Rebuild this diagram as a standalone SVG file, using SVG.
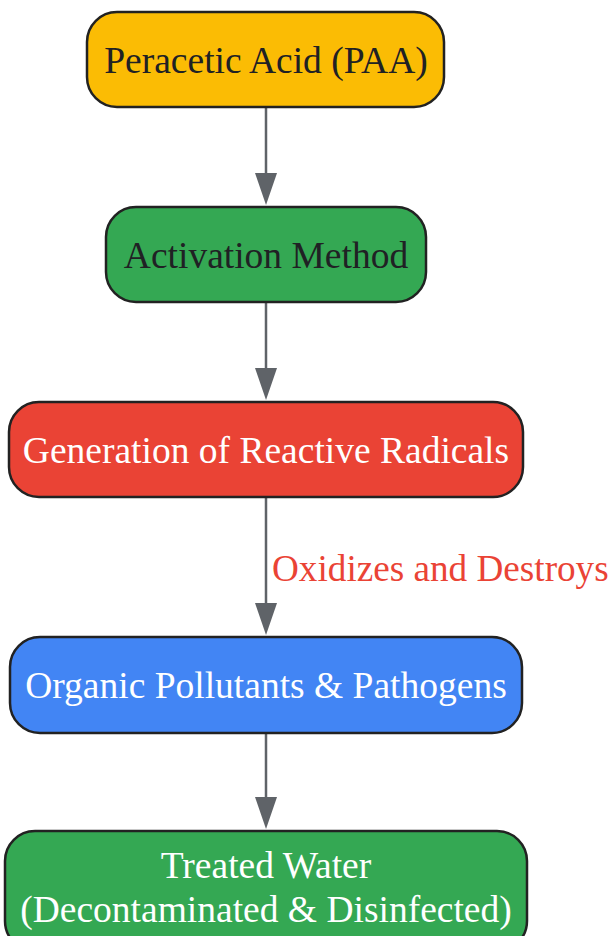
<svg xmlns="http://www.w3.org/2000/svg" width="612" height="936" viewBox="0 0 612 936">
<style>
.n{stroke:#222;stroke-width:2.5}
.t{font-family:"Liberation Serif","Times New Roman",serif;font-size:37.5px;text-anchor:middle}
.d{fill:#202124}
.w{fill:#ffffff}
.e{stroke:#5f6368;stroke-width:2.5;fill:none}
.a{fill:#5f6368}
.lbl{font-family:"Liberation Serif","Times New Roman",serif;font-size:37.2px;fill:#ea4335}
</style>
<rect width="612" height="936" fill="#ffffff"/>
<g id="connectors">
<line class="e" x1="266" y1="107" x2="266" y2="174"/>
<path class="a" d="M255,173 L277,173 L266,205 Z"/>
<line class="e" x1="266" y1="302" x2="266" y2="369"/>
<path class="a" d="M255,368 L277,368 L266,400 Z"/>
<line class="e" x1="266" y1="497" x2="266" y2="604"/>
<path class="a" d="M255,603 L277,603 L266,635 Z"/>
<text class="lbl" x="272" y="581">Oxidizes and Destroys</text>
<line class="e" x1="266" y1="733" x2="266" y2="798"/>
<path class="a" d="M255,797 L277,797 L266,829 Z"/>
</g>
<g id="paa">
<rect class="n" x="87" y="12" width="357" height="95" rx="30" fill="#fbbc04"/>
<text class="t d" x="266" y="73">Peracetic Acid (PAA)</text>
</g>
<g id="activation">
<rect class="n" x="106" y="207" width="320" height="95" rx="30" fill="#34a853"/>
<text class="t d" x="266" y="268">Activation Method</text>
</g>
<g id="radicals">
<rect class="n" x="9" y="402" width="514" height="95" rx="30" fill="#ea4335"/>
<text class="t w" x="266" y="463">Generation of Reactive Radicals</text>
</g>
<g id="pollutants">
<rect class="n" x="10" y="637" width="512" height="96" rx="30" fill="#4285f4"/>
<text class="t w" x="266" y="698">Organic Pollutants &amp; Pathogens</text>
</g>
<g id="treated">
<rect class="n" x="5" y="831" width="522" height="120" rx="30" fill="#34a853"/>
<text class="t w" x="266" y="878">Treated Water</text>
<text class="t w" x="266" y="922">(Decontaminated &amp; Disinfected)</text>
</g>
</svg>
